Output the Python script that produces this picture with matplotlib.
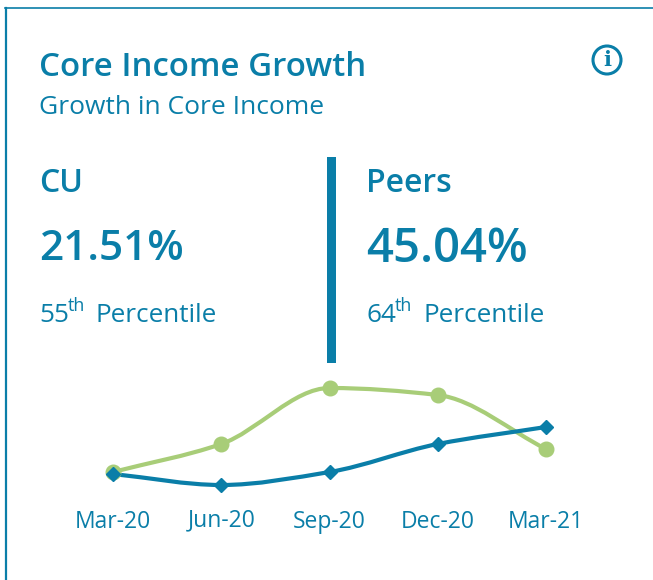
import matplotlib
matplotlib.use('Agg')
import matplotlib.pyplot as plt
import numpy as np
from matplotlib.lines import Line2D
from matplotlib.patches import Circle, PathPatch, Rectangle
from matplotlib.path import Path

plt.rcParams['font.family'] = ['Open Sans', 'DejaVu Sans']

months = ['Mar-20', 'Jun-20', 'Sep-20', 'Dec-20', 'Mar-21']
cu_values = [-0.2, -1.3, 0.0, 2.8, 4.5]
peer_values = [0.0, 2.8, 8.4, 7.7, 2.3]

title = 'Core Income Growth'
subtitle = 'Growth in Core Income'
cu_name = 'CU'
peer_name = 'Peers'
cu_pct = '21.51%'
peer_pct = '45.04%'
cu_rank = '55'
peer_rank = '64'

blue = '#0a7ea8'
green = '#a8cd78'


def smooth_path(xs, ys):
    # monotone cubic through the points, flat at local peaks
    xs = np.asarray(xs, dtype=float)
    ys = np.asarray(ys, dtype=float)
    h = np.diff(xs)
    s = np.diff(ys) / h
    m = np.zeros(len(xs))
    for i in range(1, len(xs) - 1):
        if s[i - 1] * s[i] > 0:
            m[i] = 2 * s[i - 1] * s[i] / (s[i - 1] + s[i])
    m[0] = s[0]
    m[-1] = s[-1]
    verts = [(xs[0], ys[0])]
    codes = [Path.MOVETO]
    for i in range(len(xs) - 1):
        verts.append((xs[i] + h[i] / 3, ys[i] + m[i] * h[i] / 3))
        verts.append((xs[i + 1] - h[i] / 3, ys[i + 1] - m[i + 1] * h[i] / 3))
        verts.append((xs[i + 1], ys[i + 1]))
        codes += [Path.CURVE4, Path.CURVE4, Path.CURVE4]
    return Path(verts, codes)


fig = plt.figure(figsize=(6.53, 5.8), dpi=100)

# overlay in pixel coords for the card furniture and texts
bg = fig.add_axes([0, 0, 1, 1])
bg.set_xlim(0, 653)
bg.set_ylim(580, 0)
bg.axis('off')

bg.add_line(Line2D([5.5, 5.5], [8, 580], color=blue, lw=1.6))
bg.add_line(Line2D([5, 653], [8, 8], color=blue, lw=1.2))
bg.add_patch(Rectangle((327, 157), 9, 206, color=blue, lw=0))

bg.text(39, 68, title, color=blue, fontsize=23.8, fontweight='semibold', va='center')
bg.text(39, 108, subtitle, color=blue, fontsize=19, va='center')

for x, name, pct, rank, pct_size in [(39, cu_name, cu_pct, cu_rank, 30.5),
                                     (366, peer_name, peer_pct, peer_rank, 34)]:
    bg.text(x, 184, name, color=blue, fontsize=23, fontweight='semibold', va='center')
    bg.text(x, 249, pct, color=blue, fontsize=pct_size, fontweight='semibold', va='center')
    bg.text(x, 315, rank, color=blue, fontsize=18.8, va='center')
    bg.text(x + 29, 306, 'th', color=blue, fontsize=13, va='center')
    bg.text(x + 57, 315, 'Percentile', color=blue, fontsize=18.8, va='center')

# info icon
bg.add_patch(Circle((607, 60), 14, fc='white', ec=blue, lw=2.2))
bg.text(607, 60, 'i', color=blue, fontsize=15, fontweight='bold', family='DejaVu Serif',
        ha='center', va='center')

ax = fig.add_axes([58.9 / 653, (580 - 500) / 580, (600.1 - 58.9) / 653, 130 / 580])
ax.patch.set_alpha(0)
x = np.arange(len(months))
ax.set_xlim(-0.5, 4.5)
ax.set_ylim(-2.8, 10.2)

ax.add_patch(PathPatch(smooth_path(x, peer_values), fc='none', ec=green, lw=3))
ax.plot(x, peer_values, ls='none', marker='o', ms=10.5, color=green, clip_on=False)
ax.add_patch(PathPatch(smooth_path(x, cu_values), fc='none', ec=blue, lw=3))
ax.plot(x, cu_values, ls='none', marker='D', ms=7.5, color=blue, clip_on=False)

ax.set_xticks(x)
ax.set_xticklabels(months, color=blue, fontsize=16.5, va='baseline')
ax.tick_params(axis='x', length=0, pad=20.5)
# J hangs low in this font, lift that one label back onto the line
ax.get_xticklabels()[1].set_y(2 / 130)
ax.set_yticks([])
for s in ax.spines.values():
    s.set_visible(False)

fig.savefig('out.png', dpi=100)
